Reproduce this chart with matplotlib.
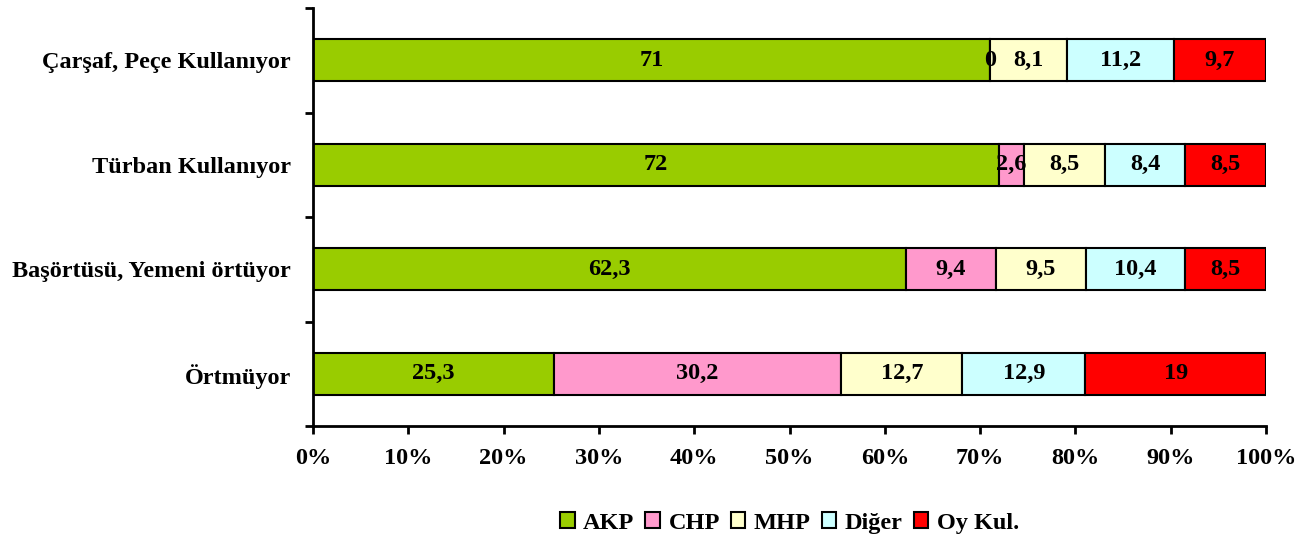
import numpy as np
import matplotlib.pyplot as plt
from matplotlib.ticker import FixedLocator, PercentFormatter

plt.rcParams['font.family'] = ['Liberation Serif', 'DejaVu Serif']
plt.rcParams['font.weight'] = 'bold'

# data (top to bottom as shown)
categories = ['Çarşaf, Peçe Kullanıyor', 'Türban Kullanıyor',
              'Başörtüsü, Yemeni örtüyor', 'Örtmüyor']
parties = ['AKP', 'CHP', 'MHP', 'Diğer', 'Oy Kul.']
akp = [71, 72, 62.3, 25.3]
chp = [0, 2.6, 9.4, 30.2]
mhp = [8.1, 8.5, 9.5, 12.7]
diger = [11.2, 8.4, 10.4, 12.9]
oykul = [9.7, 8.5, 8.5, 19]
colors = ['#99CC00', '#FF99CC', '#FFFFCC', '#CCFFFF', '#FF0000']

series = np.array([akp, chp, mhp, diger, oykul], dtype=float)
totals = series.sum(axis=0)
shares = series / totals * 100

fs = 17.5

fig = plt.figure(figsize=(13.12, 5.42), dpi=100)
ax = fig.add_axes([0.2386, 0.214, 0.7264, 0.771])

y = np.arange(len(categories))[::-1]
left = np.zeros(len(categories))
for i, name in enumerate(parties):
    ax.barh(y, shares[i], left=left, height=0.4, color=colors[i],
            edgecolor='black', linewidth=1.5, label=name)
    for j in range(len(categories)):
        v = series[i][j]
        txt = ('%g' % v).replace('.', ',')
        ax.text(left[j] + shares[i][j] / 2, y[j], txt, ha='center', va='center',
                fontsize=fs, fontweight='bold')
    left += shares[i]

ax.set_xlim(0, 100)
ax.set_ylim(-0.5, len(categories) - 0.5)
ax.xaxis.set_major_locator(FixedLocator(np.arange(0, 101, 10)))
ax.xaxis.set_major_formatter(PercentFormatter(decimals=0))

ax.set_yticks(y)
ax.set_yticklabels(categories, fontsize=fs, fontweight='bold')
ax.yaxis.set_minor_locator(FixedLocator(np.arange(-0.5, len(categories), 1)))
ax.tick_params(axis='y', which='major', length=0, pad=16)
ax.tick_params(axis='y', which='minor', length=6, width=2)
ax.tick_params(axis='x', length=6, width=2, labelsize=fs, pad=10)

for s in ['top', 'right']:
    ax.spines[s].set_visible(False)
for s in ['left', 'bottom']:
    ax.spines[s].set_linewidth(2)

fig.legend(*ax.get_legend_handles_labels(), loc='center',
           bbox_to_anchor=(789.5 / 1312, 0.035), ncol=5, frameon=False,
           prop={'size': fs, 'weight': 'bold'}, handlelength=0.6, handleheight=0.6,
           handletextpad=0.35, columnspacing=0.45)

fig.savefig('out.png', dpi=100)
